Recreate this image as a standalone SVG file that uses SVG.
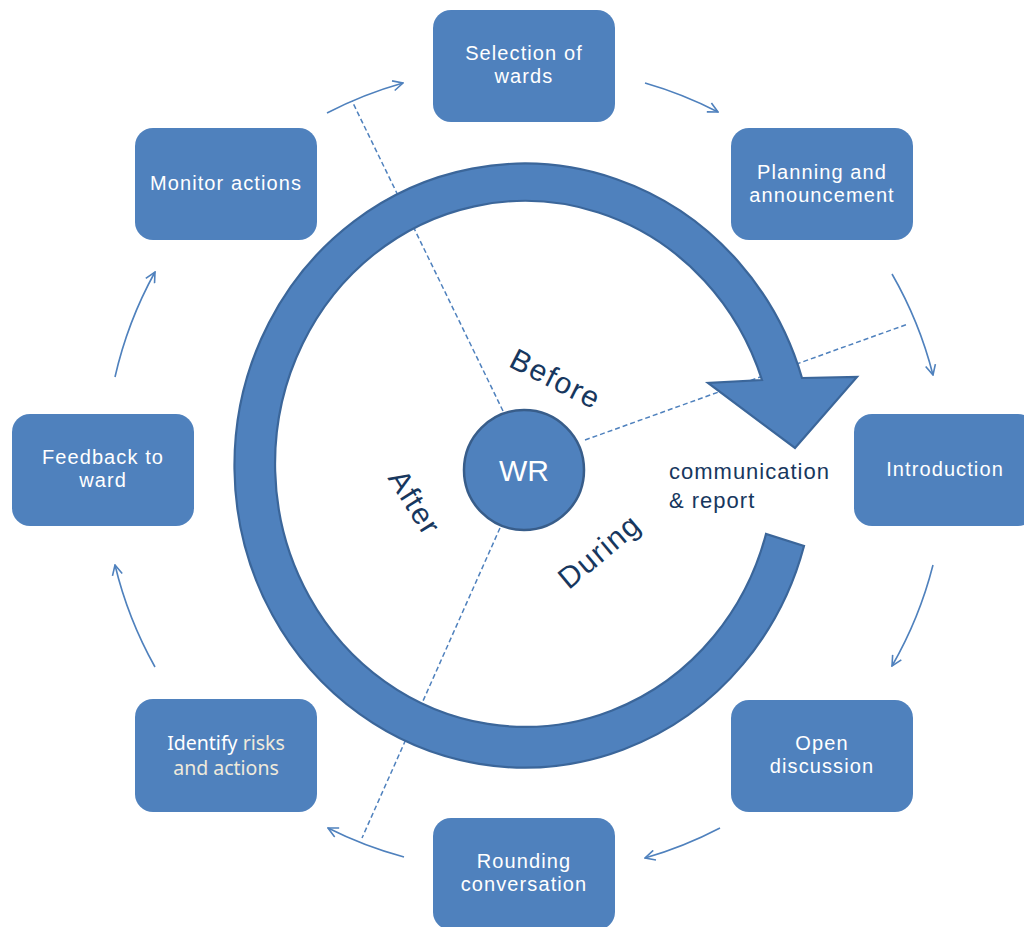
<svg xmlns="http://www.w3.org/2000/svg" width="1024" height="927" viewBox="0 0 1024 927">
<style>
.node{fill:#4f81bd;}
.nt{fill:#ffffff;font-family:"Liberation Sans",Arial,sans-serif;font-size:20px;letter-spacing:1.1px;text-anchor:middle;}
.flow{fill:none;stroke:#4f81bd;stroke-width:1.6;marker-end:url(#ah);}
.dash{fill:none;stroke:#4f81bd;stroke-width:1.5;stroke-dasharray:5 3;}
.phase{fill:#17375e;font-family:"Liberation Sans",Arial,sans-serif;font-size:30px;letter-spacing:1.5px;text-anchor:middle;}
</style>
<defs>
<marker id="ah" viewBox="0 0 12 12" refX="11" refY="6" markerWidth="12" markerHeight="12" markerUnits="userSpaceOnUse" orient="auto">
<path d="M1,1 L11,6 L1,11" fill="none" stroke="#4f81bd" stroke-width="1.6"/>
</marker>
</defs>
<rect width="1024" height="927" fill="#ffffff"/>

<g id="connectors">
<path class="dash" d="M503,411 L352,101"/>
<path class="dash" d="M585,440 L908,324"/>
<path class="dash" d="M500,528 L362,838"/>
<path class="flow" d="M327,113 A400,400 0 0 1 403,83"/>
<path class="flow" d="M645,83 A400,400 0 0 1 718,112"/>
<path class="flow" d="M892,274 A400,400 0 0 1 933,375"/>
<path class="flow" d="M933,565 A400,400 0 0 1 892,666"/>
<path class="flow" d="M720,828 A400,400 0 0 1 645,858"/>
<path class="flow" d="M404,857 A400,400 0 0 1 328,828"/>
<path class="flow" d="M155,667 A400,400 0 0 1 115,565"/>
<path class="flow" d="M115,377 A400,400 0 0 1 155,272"/>
</g>

<g id="cycle-arrow">
<path d="M804,546 A290,302 0 1 1 802,378 L857,377 L795,448 L708,383 L762,380 A250,263 0 1 0 766,534 Z" fill="#4f81bd" stroke="#3b669a" stroke-width="2.2" stroke-linejoin="miter"/>
</g>

<g id="center">
<circle cx="524" cy="470" r="60" fill="#4f81bd" stroke="#385d8a" stroke-width="2.5"/>
<text x="524" y="481" fill="#ffffff" font-family="Liberation Sans,Arial,sans-serif" font-size="30" text-anchor="middle">WR</text>
</g>

<g id="phase-labels">
<text class="phase" transform="translate(551,388) rotate(27)">Before</text>
<text class="phase" transform="translate(606,559) rotate(-40)">During</text>
<text class="phase" transform="translate(406,508) rotate(58)">After</text>
<text x="669" y="479" fill="#17375e" font-family="Liberation Sans,Arial,sans-serif" font-size="22" letter-spacing="1">communication</text>
<text x="669" y="508" fill="#17375e" font-family="Liberation Sans,Arial,sans-serif" font-size="22" letter-spacing="1">&amp; report</text>
</g>

<g id="n-selection">
<rect class="node" x="433" y="10" width="182" height="112" rx="18"/>
<text class="nt" x="524" y="60">Selection of</text>
<text class="nt" x="524" y="83">wards</text>
</g>
<g id="n-planning">
<rect class="node" x="731" y="128" width="182" height="112" rx="18"/>
<text class="nt" x="822" y="179">Planning and</text>
<text class="nt" x="822" y="202">announcement</text>
</g>
<g id="n-introduction">
<rect class="node" x="854" y="414" width="182" height="112" rx="18"/>
<text class="nt" x="945" y="476">Introduction</text>
</g>
<g id="n-open">
<rect class="node" x="731" y="700" width="182" height="112" rx="18"/>
<text class="nt" x="822" y="750">Open</text>
<text class="nt" x="822" y="773">discussion</text>
</g>
<g id="n-rounding">
<rect class="node" x="433" y="818" width="182" height="112" rx="18"/>
<text class="nt" x="524" y="868">Rounding</text>
<text class="nt" x="524" y="891">conversation</text>
</g>
<g id="n-identify">
<rect class="node" x="135" y="699" width="182" height="113" rx="18"/>
<text x="226" y="750" fill="#ffffff" font-family="Noto Sans,Open Sans,sans-serif" font-size="19.5" text-anchor="middle">Identify <tspan fill="#efeadb">risks</tspan></text>
<text x="226" y="775" fill="#efeadb" font-family="Noto Sans,Open Sans,sans-serif" font-size="19.5" text-anchor="middle">and actions</text>
</g>
<g id="n-feedback">
<rect class="node" x="12" y="414" width="182" height="112" rx="18"/>
<text class="nt" x="103" y="464">Feedback to</text>
<text class="nt" x="103" y="487">ward</text>
</g>
<g id="n-monitor">
<rect class="node" x="135" y="128" width="182" height="112" rx="18"/>
<text class="nt" x="226" y="190">Monitor actions</text>
</g>
</svg>
